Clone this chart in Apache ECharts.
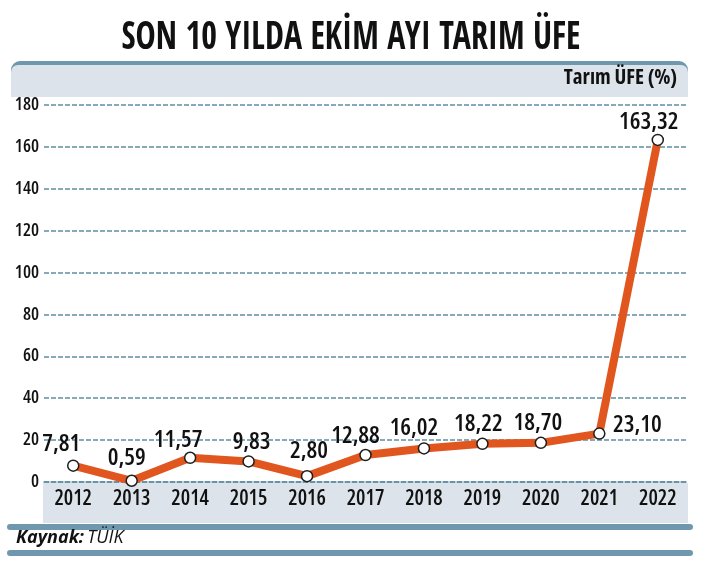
<!DOCTYPE html>
<html lang="tr">
<head>
<meta charset="utf-8">
<title>Son 10 yılda ekim ayı tarım ÜFE</title>
<script src="https://cdn.jsdelivr.net/npm/echarts@6/dist/echarts.min.js"></script>
<style>
  html, body { margin: 0; padding: 0; background: #fff; }
  #main { width: 702px; height: 564px; }
</style>
</head>
<body>
<div id="main"></div>
<script type="text/javascript">
  // veriler
  var years = ['2012', '2013', '2014', '2015', '2016', '2017', '2018', '2019', '2020', '2021', '2022'];
  var ufe = [7.81, 0.59, 11.57, 9.83, 2.80, 12.88, 16.02, 18.22, 18.70, 23.10, 163.32];
  var yTicks = [0, 20, 40, 60, 80, 100, 120, 140, 160, 180];

  // etiketlerin nokta merkezine göre kaydırılması
  var labelShift = [[-12, -21], [-5, -23], [-12, -18], [3, -19], [2, -25], [-10, -19],
                    [-10, -20], [-4, -20], [-3, -20], [38, -8], [-9, -18]];

  // Open Sans (değişken) + font-stretch: condensed
  var sans = '"Open Sans", sans-serif';
  var cond = 'condensed';
  var blue = '#6f98ae';
  var pale = '#dce3ea';
  var gridBlue = '#5f8fa3';

  var points = ufe.map(function (v, i) {
    return {
      value: v,
      label: { offset: labelShift[i] }
    };
  });

  var myChart = echarts.init(document.getElementById('main'));

  var option = {
    animation: false,
    graphic: [
      // başlık (yatayda biraz sıkıştırılmış)
      { type: 'text', z: 5, x: 351, y: 39, scaleX: 0.87,
        style: { text: 'SON 10 YILDA EKİM AYI TARIM ÜFE', align: 'center', verticalAlign: 'middle',
                 fontFamily: '"Open Sans Condensed", sans-serif', fontWeight: 'bold', fontSize: 39, fill: '#111' } },
      // üst bant
      { type: 'rect', z: -10, shape: { x: 11, y: 61, width: 677, height: 36, r: [9, 9, 0, 0] }, style: { fill: blue } },
      { type: 'rect', z: -9, shape: { x: 11, y: 65, width: 677, height: 32, r: [7, 7, 0, 0] }, style: { fill: pale } },
      { type: 'text', z: 5, right: 25, top: 68,
        style: { text: 'Tarım ÜFE (%)', fontFamily: sans, fontWeight: 'bold ' + cond, fontSize: 21, fill: '#111' } },
      // x ekseni bandı
      { type: 'rect', z: -10, shape: { x: 43, y: 483, width: 645, height: 40 }, style: { fill: pale } },
      // alt çizgiler
      { type: 'rect', z: -10, shape: { x: 7, y: 524, width: 686, height: 6, r: 3 }, style: { fill: blue } },
      { type: 'rect', z: -10, shape: { x: 7, y: 550, width: 686, height: 6, r: 3 }, style: { fill: blue } },
      { type: 'text', z: 5, left: 16, top: 529,
        style: {
          text: '{b|Kaynak:} {n|TÜİK}',
          rich: {
            b: { fontFamily: sans, fontStyle: 'italic', fontWeight: 'bold', fontSize: 18, fill: '#111' },
            n: { fontFamily: sans, fontStyle: 'italic', fontSize: 18, fill: '#111' }
          }
        } }
    ],
    grid: { left: 44, right: 15, top: 105, bottom: 82 },
    xAxis: {
      type: 'category',
      data: years,
      boundaryGap: true,
      axisLine: { lineStyle: { color: gridBlue, width: 1.5, type: [5, 2] } },
      axisTick: { inside: true, length: 7, lineStyle: { color: gridBlue, width: 1.5 } },
      axisLabel: { margin: 7, fontFamily: sans, fontWeight: '600 ' + cond, fontSize: 21, color: '#111' }
    },
    yAxis: {
      type: 'value',
      min: yTicks[0],
      max: yTicks[yTicks.length - 1],
      interval: yTicks[1] - yTicks[0],
      axisLine: { show: false },
      axisTick: { show: false },
      axisLabel: { margin: 5, fontFamily: sans, fontWeight: '600 ' + cond, fontSize: 18, color: '#111' },
      splitLine: { lineStyle: { color: gridBlue, width: 1.5, type: [5, 2] } }
    },
    series: [{
      type: 'line',
      data: points,
      symbol: 'circle',
      symbolSize: 11,
      lineStyle: { color: '#e1561f', width: 8, cap: 'round', join: 'round' },
      itemStyle: { color: '#fff', borderColor: '#1e1e1e', borderWidth: 1.5 },
      label: {
        show: true,
        position: 'inside',
        fontFamily: sans,
        fontWeight: '600 ' + cond,
        fontSize: 24,
        color: '#111',
        formatter: function (p) { return p.value.toFixed(2).replace('.', ','); }
      },
      z: 3
    }]
  };

  myChart.setOption(option);
</script>
</body>
</html>
